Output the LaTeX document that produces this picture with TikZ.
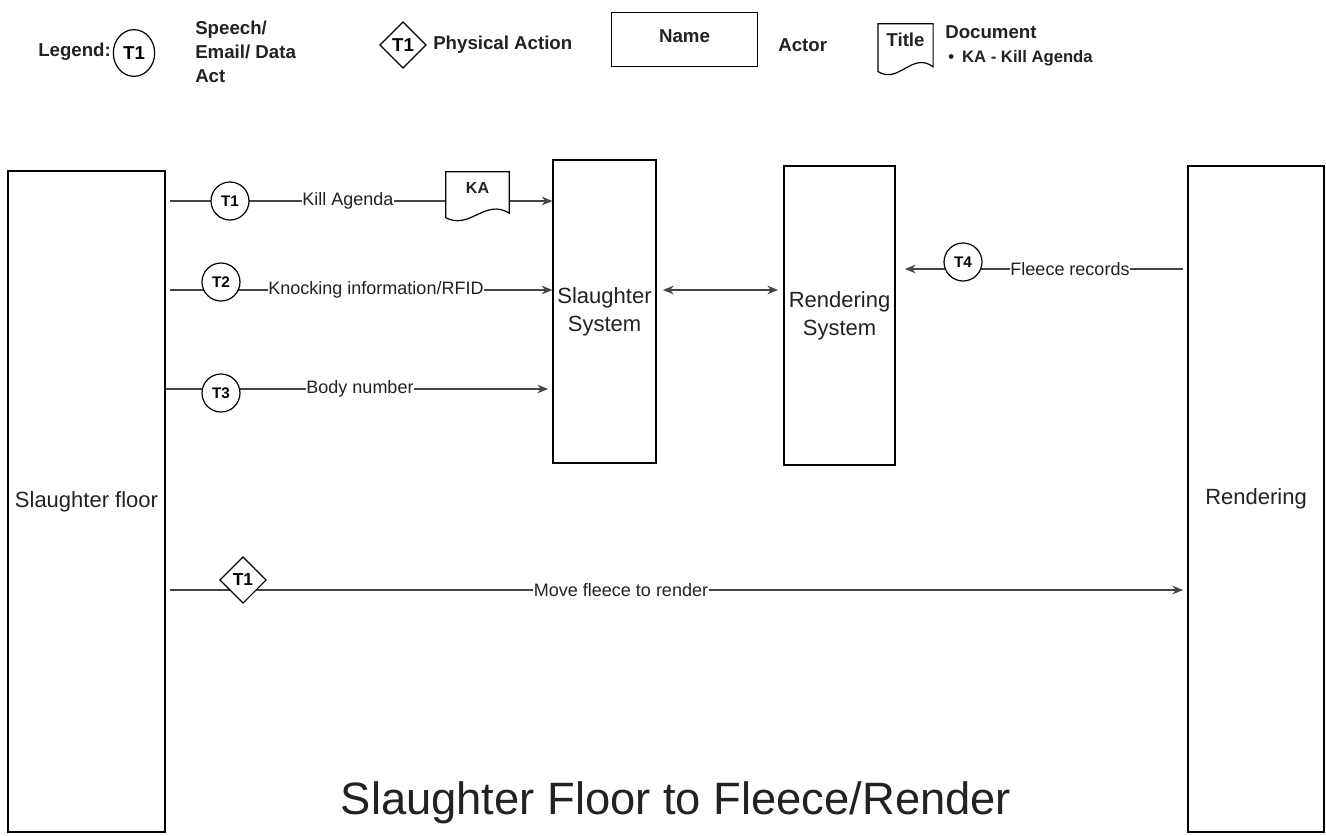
\documentclass[tikz,border=0pt]{standalone}
\usepackage{fontspec}
\setmainfont{Liberation Sans}
\usetikzlibrary{shapes.geometric,arrows.meta,calc,backgrounds}
\definecolor{ln}{HTML}{444444}
\definecolor{tx}{HTML}{222222}
\newcommand{\drawdoc}[1]{%
  \draw[black,line width=0.9pt,fill=white] let \p1=(#1.north west), \p2=(#1.south east) in
  (\x1,\y1) -- (\x2,\y1) -- (\x2,{\y1+0.82*(\y2-\y1)})
  .. controls ({\x1+0.62*(\x2-\x1)},{\y1+0.52*(\y2-\y1)}) and ({\x1+0.38*(\x2-\x1)},{\y1+1.16*(\y2-\y1)}) ..
  (\x1,{\y1+0.91*(\y2-\y1)}) -- cycle;}
\begin{document}
\begin{tikzpicture}[x=0.75pt,y=-0.75pt,
  box/.style={draw=black,line width=0.9pt,fill=white,align=center,
    font=\fontsize{16.5}{21}\selectfont,inner sep=0,text=tx},
  tcirc/.style={circle,draw=black,line width=0.9pt,fill=white,minimum size=28.5pt,
    inner sep=0,font=\bfseries\fontsize{11.5}{13}\selectfont},
  tdiam/.style={diamond,draw=black,line width=0.9pt,fill=white,minimum width=35pt,
    minimum height=35pt,inner sep=0,font=\bfseries\fontsize{13}{14}\selectfont},
  elab/.style={fill=white,inner sep=0.6pt,font=\fontsize{13.5}{16}\selectfont,text=tx},
  conn/.style={draw=ln,line width=0.9pt},
  arr/.style={conn,-{Stealth[length=8pt,width=6.5pt]}},
  darr/.style={conn,{Stealth[length=8pt,width=6.5pt]}-{Stealth[length=8pt,width=6.5pt]}},
  legtxt/.style={font=\bfseries\fontsize{14}{18}\selectfont,inner sep=0,anchor=west,align=left,text=tx},
  docbox/.style={draw=none,inner sep=0},
]
\useasboundingbox (0,0) rectangle (1326,835);

% ---------- Legend ----------
\node[legtxt] (leg) at (38,52) {Legend:};
\node[ellipse,draw=black,line width=0.9pt,fill=white,minimum width=31pt,minimum height=35pt,
  inner sep=0,font=\bfseries\fontsize{14}{16}\selectfont] (lcirc) at (134,53) {T1};
\node[legtxt] (lsp) at (195,52) {Speech/\\Email/ Data\\Act};
\node[tdiam,minimum width=35pt,minimum height=35pt,font=\bfseries\fontsize{14}{16}\selectfont] (ldiam) at (403,45) {T1};
\node[legtxt] (lpa) at (433,45) {Physical Action};
\node[draw=black,line width=0.9pt,minimum width=110pt,minimum height=41pt,inner sep=0,
  font=\bfseries\fontsize{14}{16}\selectfont,text=tx] (lname) at (684.5,39.5) {};
\node[font=\bfseries\fontsize{14}{16}\selectfont,inner sep=0,text=tx] (lnametxt) at (684.5,36) {Name};
\node[legtxt] (lactor) at (778,45) {Actor};
\node[docbox,minimum width=41pt,minimum height=39pt] (ldoc) at (905.5,50) {};
\drawdoc{ldoc}
\node[font=\bfseries\fontsize{14}{16}\selectfont,inner sep=0,text=tx] (ldoctxt) at (905.5,40) {Title};
\node[legtxt] (ldocument) at (945,32) {Document};
\node[legtxt,font=\bfseries\fontsize{12.5}{14}\selectfont] (lbullet) at (948,58) {\textbullet\hspace{6pt}KA - Kill Agenda};

% ---------- Actors ----------
\node[box,minimum width=117.75pt,minimum height=495.75pt] (sf) at (86.5,501.5) {Slaughter floor};
\node[box,minimum width=77.25pt,minimum height=227.25pt] (ss) at (604.5,311.5) {Slaughter\\System};
\node[box,minimum width=83.25pt,minimum height=224.25pt] (rs) at (839.5,315.5) {Rendering\\System};
\node[box,minimum width=102pt,minimum height=499.5pt] (rd) at (1256,499) {Rendering};

% ---------- Acts on the lines ----------
\node[tcirc] (c1) at (230,201) {T1};
\node[elab] (l1) at (348,201) {Kill Agenda};
\node[docbox,minimum width=47.25pt,minimum height=37.5pt] (ka) at (477.5,197) {};
\drawdoc{ka}
\node[font=\bfseries\fontsize{12}{14}\selectfont,inner sep=0,text=tx] (katxt) at (477.5,188) {KA};

\node[tcirc] (c2) at (221,282) {T2};
\node[elab] (l2) at (376,290) {Knocking information/RFID};

\node[tcirc] (c3) at (221,393) {T3};
\node[elab] (l3) at (360,389) {Body number};

\node[tcirc] (c4) at (963,262) {T4};
\node[elab] (l4) at (1070,269) {Fleece records};

\node[tdiam] (d1) at (243,580) {T1};
\node[elab] (l5) at (621,590) {Move fleece to render};

% ---------- connectors ----------
\coordinate (r1) at (170,201);
\coordinate (r2) at (170,290);
\coordinate (r3) at (165,389);
\coordinate (r5) at (170,590);
\coordinate (r4) at (1183,269);
\coordinate (e3) at (548,389);
\coordinate (e4) at (905,269);
\coordinate (e5) at (1183,590);
\coordinate (b1) at (663,290);
\coordinate (b2) at (778,290);
\begin{scope}[on background layer]
  \fill[white] (0,0) rectangle (1326,835);
  \draw[arr] (r1) -- (ss.west |- r1);
  \draw[arr] (r2) -- (ss.west |- r2);
  \draw[arr] (r3) -- (e3);
  \draw[arr] (r4) -- (e4);
  \draw[arr] (r5) -- (e5);
  \draw[darr] (b1) -- (b2);
\end{scope}

% ---------- Title ----------
\node[font=\fontsize{34}{40}\selectfont,inner sep=0,text=tx] (title) at (676,803) {Slaughter Floor to Fleece/Render};
\end{tikzpicture}
\end{document}
